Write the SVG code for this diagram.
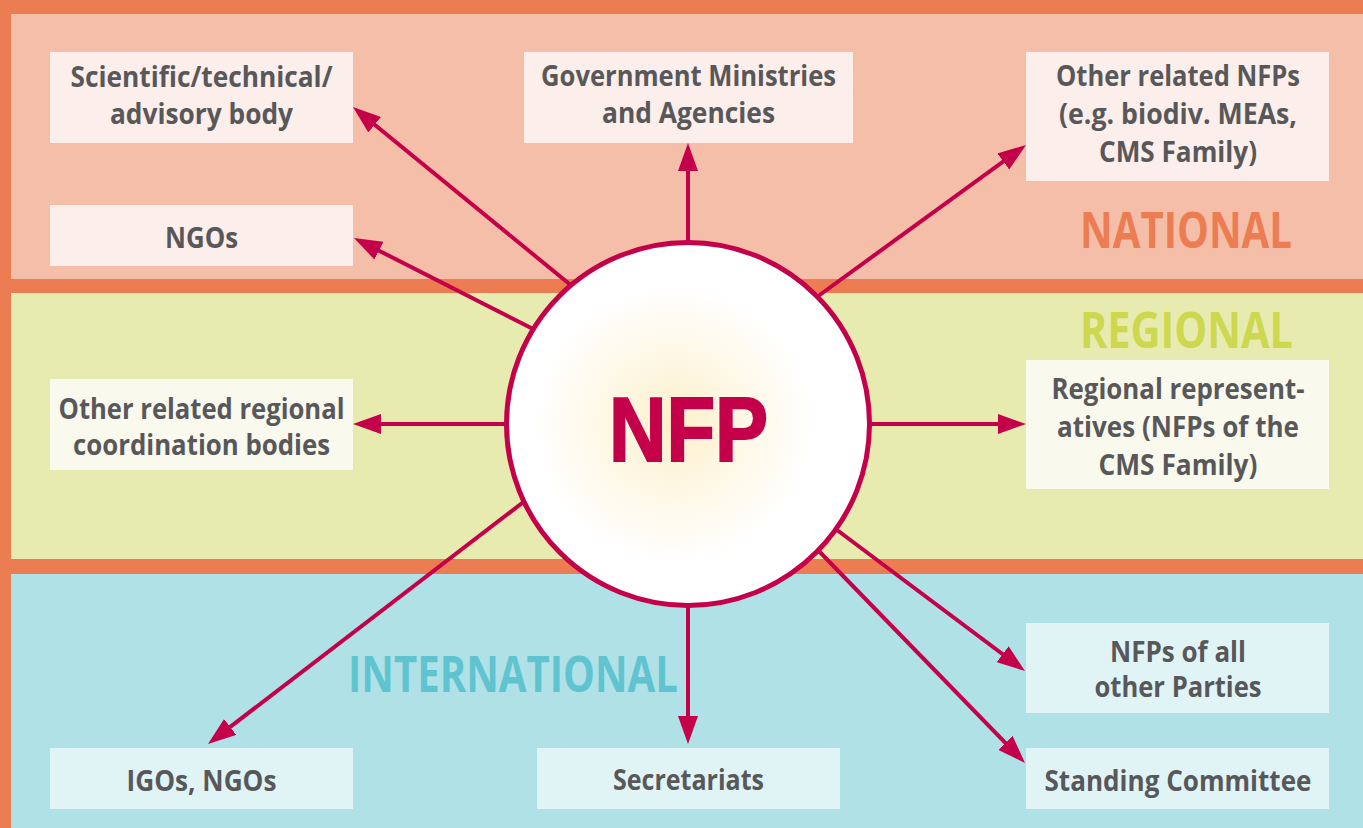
<svg xmlns="http://www.w3.org/2000/svg" width="1363" height="828" viewBox="0 0 1363 828">
<style>
.lbl{font-family:"Open Sans","Liberation Sans",sans-serif;font-weight:700;font-size:28px;fill:#58585A;text-anchor:middle}
.band{font-family:"Open Sans","Liberation Sans",sans-serif;font-weight:700;font-size:50px;text-anchor:start}
.nb{fill:#FCEEEA}.rb{fill:#F9F9EE}.ib{fill:#E0F4F6}
.con{stroke:#C4004A;stroke-width:4;fill:none;marker-end:url(#ah)}
</style>
<defs>
<marker id="ah" markerUnits="userSpaceOnUse" markerWidth="28" markerHeight="20" refX="18" refY="10" orient="auto" viewBox="0 0 28 20">
<path d="M0,0 L28,10 L0,20 z" fill="#C4004A"/>
</marker>
<radialGradient id="glow" cx="0.46" cy="0.5" r="0.55">
<stop offset="0" stop-color="#FDF0CC"/>
<stop offset="0.7" stop-color="#FFFFFF"/>
<stop offset="1" stop-color="#FFFFFF"/>
</radialGradient>
</defs>
<g id="background">
<rect x="0" y="0" width="1363" height="828" fill="#EC7D52"/>
<rect x="11" y="14" width="1352" height="265" fill="#F5BEA8"/>
<rect x="11" y="293" width="1352" height="266" fill="#E7EBB0"/>
<rect x="11" y="574" width="1352" height="254" fill="#AFE1E7"/>
<text class="band" x="1080" y="248" fill="#EC7D52" textLength="212" lengthAdjust="spacingAndGlyphs">NATIONAL</text>
<text class="band" x="1080" y="348" fill="#CDD84E" textLength="213" lengthAdjust="spacingAndGlyphs">REGIONAL</text>
<text class="band" x="348" y="692" fill="#5FC4D0" textLength="330" lengthAdjust="spacingAndGlyphs">INTERNATIONAL</text>
</g>
<g id="connectors">
<line class="con" x1="578" y1="291" x2="360.7" y2="113.3"/>
<line class="con" x1="539" y1="332" x2="362.9" y2="242.5"/>
<line class="con" x1="688" y1="250" x2="688" y2="153"/>
<line class="con" x1="810" y1="302" x2="1017.9" y2="150.9"/>
<line class="con" x1="512" y1="424" x2="363" y2="424"/>
<line class="con" x1="864" y1="424" x2="1016" y2="424"/>
<line class="con" x1="530" y1="497" x2="215.9" y2="737.9"/>
<line class="con" x1="688" y1="598" x2="688" y2="734"/>
<line class="con" x1="829" y1="524" x2="1017" y2="665"/>
<line class="con" x1="813" y1="545" x2="1018" y2="755.8"/>
</g>
<g id="nfp">
<circle cx="688" cy="424" r="181.5" fill="url(#glow)" stroke="#C4004A" stroke-width="5"/>
<text x="688.5" y="461" text-anchor="middle" font-family="Liberation Sans, Arial, sans-serif" font-weight="bold" font-size="90" fill="#C4004A" stroke="#C4004A" stroke-width="2" textLength="159" lengthAdjust="spacingAndGlyphs">NFP</text>
</g>
<g id="scientific">
<rect class="nb" x="50" y="52" width="303" height="91"/>
<text class="lbl" x="201.5" y="87" textLength="262" lengthAdjust="spacingAndGlyphs">Scientific/technical/</text>
<text class="lbl" x="201.5" y="124" textLength="183" lengthAdjust="spacingAndGlyphs">advisory body</text>
</g>
<g id="ngos">
<rect class="nb" x="50" y="205" width="303" height="61"/>
<text class="lbl" x="201.5" y="248" textLength="73" lengthAdjust="spacingAndGlyphs">NGOs</text>
</g>
<g id="government">
<rect class="nb" x="524" y="52" width="329" height="91"/>
<text class="lbl" x="688.5" y="86" textLength="295" lengthAdjust="spacingAndGlyphs">Government Ministries</text>
<text class="lbl" x="688.5" y="123" textLength="173" lengthAdjust="spacingAndGlyphs">and Agencies</text>
</g>
<g id="other-nfps">
<rect class="nb" x="1026" y="52" width="303" height="129"/>
<text class="lbl" x="1178" y="86" textLength="244" lengthAdjust="spacingAndGlyphs">Other related NFPs</text>
<text class="lbl" x="1178" y="124" textLength="238" lengthAdjust="spacingAndGlyphs">(e.g. biodiv. MEAs,</text>
<text class="lbl" x="1178" y="162" textLength="158" lengthAdjust="spacingAndGlyphs">CMS Family)</text>
</g>
<g id="regional-bodies">
<rect class="rb" x="50" y="379" width="303" height="91"/>
<text class="lbl" x="201.5" y="419" textLength="286" lengthAdjust="spacingAndGlyphs">Other related regional</text>
<text class="lbl" x="201.5" y="455" textLength="257" lengthAdjust="spacingAndGlyphs">coordination bodies</text>
</g>
<g id="regional-reps">
<rect class="rb" x="1026" y="360" width="303" height="129"/>
<text class="lbl" x="1178" y="399" textLength="253" lengthAdjust="spacingAndGlyphs">Regional represent-</text>
<text class="lbl" x="1178" y="437" textLength="242" lengthAdjust="spacingAndGlyphs">atives (NFPs of the</text>
<text class="lbl" x="1178" y="475" textLength="159" lengthAdjust="spacingAndGlyphs">CMS Family)</text>
</g>
<g id="igos">
<rect class="ib" x="50" y="748" width="303" height="61"/>
<text class="lbl" x="201.5" y="791" textLength="150" lengthAdjust="spacingAndGlyphs">IGOs, NGOs</text>
</g>
<g id="secretariats">
<rect class="ib" x="537" y="748" width="303" height="61"/>
<text class="lbl" x="688.5" y="790" textLength="151" lengthAdjust="spacingAndGlyphs">Secretariats</text>
</g>
<g id="nfps-parties">
<rect class="ib" x="1026" y="623" width="303" height="90"/>
<text class="lbl" x="1178" y="662" textLength="136" lengthAdjust="spacingAndGlyphs">NFPs of all</text>
<text class="lbl" x="1178" y="697" textLength="167" lengthAdjust="spacingAndGlyphs">other Parties</text>
</g>
<g id="standing-committee">
<rect class="ib" x="1026" y="748" width="303" height="61"/>
<text class="lbl" x="1178" y="791" textLength="267" lengthAdjust="spacingAndGlyphs">Standing Committee</text>
</g>
</svg>
